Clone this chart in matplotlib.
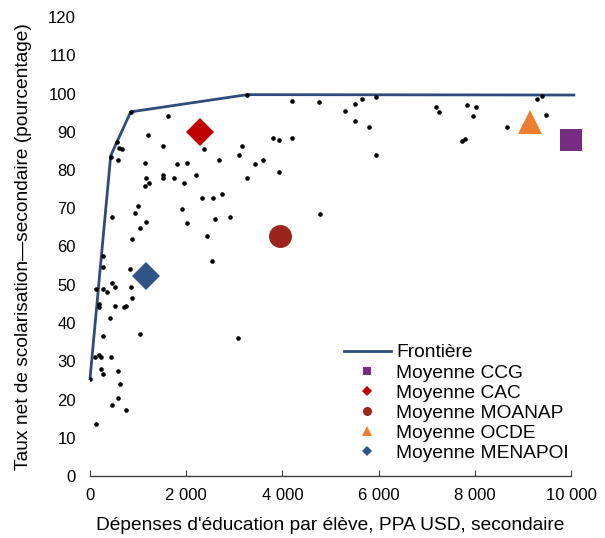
import matplotlib
matplotlib.use('Agg')
import matplotlib.pyplot as plt
from matplotlib.lines import Line2D

plt.rcParams['font.family'] = ['Liberation Sans', 'DejaVu Sans']

# countries: spending per pupil (PPA USD) vs net enrolment rate, secondary
spend = [846, 1615, 3270, 1199, 3811, 3929, 555, 610, 659, 1518, 2364, 3166, 430, 589,
         1137, 1809, 2010, 2689, 3104, 3424, 3590, 3929, 1518, 1518, 1171, 1233, 1137,
         1746, 1948, 2197, 3264, 2328, 2557, 2751, 1005, 936, 1913, 457, 1171, 1040,
         2010, 2592, 2917, 2426, 873, 264, 264, 838, 2530, 457, 526, 360, 264, 125,
         846, 193, 193, 526, 707, 748, 873, 422, 264, 1040, 3077, 98, 193, 235, 430,
         235, 264, 589, 617, 582, 457, 748, 125, 0, 4206, 4755, 5503, 5661, 5952,
         5308, 5503, 5794, 4206, 5952, 4788, 7187, 7256, 7831, 8025, 7956, 7734, 7803,
         8669, 9287, 9391, 9480]
enrol = [95.2, 94.1, 99.7, 89.2, 88.4, 87.8, 87.2, 85.8, 85.5, 86.4, 85.5, 86.4, 83.5, 82.7,
         81.9, 81.5, 81.9, 82.6, 83.8, 81.5, 82.6, 79.5, 78.7, 77.8, 77.8, 76.6, 75.7,
         77.8, 76.6, 78.6, 77.8, 72.8, 72.8, 73.6, 70.5, 68.8, 69.7, 67.7, 66.4, 64.8,
         66.1, 67.3, 67.7, 62.8, 62.0, 57.5, 54.6, 54.2, 56.3, 50.5, 49.4, 48.1, 49.0, 49.0,
         49.3, 44.9, 44.2, 44.5, 44.1, 44.5, 46.5, 41.4, 36.5, 37.0, 36.2, 31.0, 31.7, 31.0, 31.0,
         27.9, 26.6, 27.5, 24.1, 20.5, 18.5, 17.3, 13.6, 25.4, 98.1, 97.7, 97.3, 98.6, 99.0,
         95.3, 92.8, 91.2, 88.4, 83.9, 68.4, 96.5, 95.2, 96.9, 96.5, 94.0, 87.6, 88.0,
         91.2, 98.6, 99.3, 94.5]

# efficiency frontier
front_x = [0, 430, 555, 846, 3270, 10060]
front_y = [25.4, 83.7, 87.2, 95.2, 99.7, 99.6]

# group averages
groups = ['Moyenne CCG', 'Moyenne CAC', 'Moyenne MOANAP', 'Moyenne OCDE', 'Moyenne MENAPOI']
group_x = [10000, 2287, 3950, 9141, 1158]
group_y = [87.9, 89.9, 62.7, 92.5, 52.4]
group_marker = ['s', 'D', 'o', '^', 'D']
group_size = [16.5, 13.8, 16.5, 17, 14.3]
group_color = ['#772B83', '#C00000', '#9B241D', '#ED7D31', '#2F5488']
leg_size = [6, 5, 6.5, 6.5, 5]  # markers in the legend are small

fig = plt.figure(figsize=(6.05, 5.38), dpi=100)
ax = fig.add_axes([90 / 605, 62 / 538, 481 / 605, 459 / 538])

line_col = '#2F4B7C'
ax.plot(front_x, front_y, color=line_col, lw=2, zorder=2, clip_on=False)
ax.plot(spend, enrol, 'o', color='black', ms=3.3, mew=0, zorder=3)
for x, y, m, s, c in zip(group_x, group_y, group_marker, group_size, group_color):
    ax.plot(x, y, marker=m, ms=s, color=c, mew=0, ls='none', zorder=4, clip_on=False)

ax.set_xlim(0, 10000)
ax.set_ylim(0, 120)
ax.set_xticks(range(0, 10001, 2000))
ax.set_xticklabels(['0', '2 000', '4 000', '6 000', '8 000', '10 000'])
ax.set_yticks(range(0, 121, 10))

for s in ['top', 'right', 'left']:
    ax.spines[s].set_visible(False)
ax.spines['bottom'].set_color('#404040')
ax.spines['bottom'].set_linewidth(1)
ax.tick_params(axis='x', direction='in', length=4, color='#404040', labelsize=12, pad=9)
ax.tick_params(axis='y', length=0, labelsize=12, pad=10)

ax.set_xlabel("Dépenses d'éducation par élève, PPA USD, secondaire", fontsize=13.8, labelpad=10)
ax.set_ylabel('Taux net de scolarisation\u2014secondaire (pourcentage)', fontsize=13.8, labelpad=12)

handles = [Line2D([], [], color=line_col, lw=2)]
for m, c, s in zip(group_marker, group_color, leg_size):
    handles.append(Line2D([], [], marker=m, color=c, ls='none', ms=s, mew=0))
leg = ax.legend(handles, ['Frontière'] + groups, loc='upper left',
                bbox_to_anchor=(344 / 605, 1 - 344 / 538), bbox_transform=fig.transFigure,
                frameon=False, fontsize=13.8, borderpad=0, borderaxespad=0,
                labelspacing=0.14, handlelength=2.45, handletextpad=0.26)

fig.savefig('out.png', dpi=100)
